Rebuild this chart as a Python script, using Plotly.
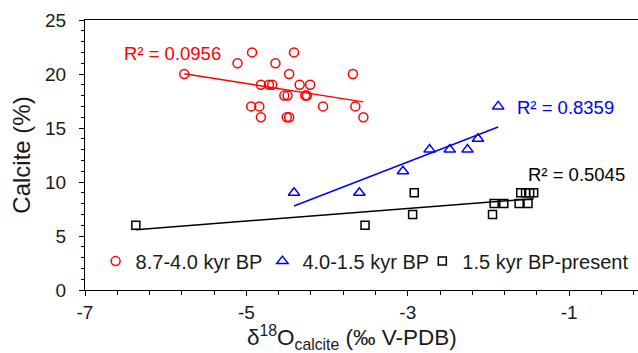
import numpy as np
import plotly.graph_objects as go

# Data
red_x = [-5.77, -5.11, -4.93, -4.64, -4.41, -4.47, -3.68, -4.82, -4.72, -4.68, -4.34, -4.21,
         -4.53, -4.49, -4.27, -4.25, -4.94, -4.84, -4.05, -3.65, -4.82, -4.50, -4.47, -3.55]
red_y = [20, 21, 22, 21, 22, 20, 20, 19, 19, 19, 19, 19,
         18, 18, 18, 18, 17, 17, 17, 17, 16, 16, 16, 16]
blue_x = [-4.41, -3.60, -3.06, -2.73, -2.48, -2.26, -2.13, -1.88]
blue_y = [9, 9, 11, 13, 13, 13, 14, 17]
black_x = [-6.37, -3.53, -2.92, -2.94, -1.95, -1.93, -1.81, -1.62, -1.51,
           -1.60, -1.54, -1.49, -1.44]
black_y = [6, 6, 9, 7, 7, 8, 8, 8, 8, 9, 9, 9, 9]

names = ["8.7-4.0 kyr BP", "4.0-1.5 kyr BP", "1.5 kyr BP-present"]
r2_labels = ["R² = 0.0956", "R² = 0.8359", "R² = 0.5045"]
r2_pos = [(-6.54, 21.9), (-1.67, 16.9), (-1.53, 10.7)]
x_tickvals = [-7, -5, -3, -1]
x_ticktext = ["-7", "-5", "-3", "-1"]

FONT = "Arial, Liberation Sans, sans-serif"
TXT = "#1a1a1a"
colors = ["#FF0000", "#0000FF", "#000000"]
symbols = ["circle-open", "triangle-up-open", "square-open"]
sizes = [9, 10, 8]
legend_ids = ["legend", "legend2", "legend3"]
legend_x = [0.0192, 0.3208, 0.6100]

fig = go.Figure()
groups = [(red_x, red_y), (blue_x, blue_y), (black_x, black_y)]
for (gx, gy), c in zip(groups, colors):
    gx = np.array(gx); gy = np.array(gy)
    k, b = np.polyfit(gx, gy, 1)
    xs = np.array([gx.min(), gx.max()])
    fig.add_trace(go.Scatter(x=xs, y=k * xs + b, mode="lines",
                             line=dict(color=c, width=1.5), showlegend=False,
                             hoverinfo="skip"))
for (gx, gy), c, s, sz, n, lg in zip(groups, colors, symbols, sizes, names, legend_ids):
    fig.add_trace(go.Scatter(x=gx, y=gy, mode="markers", name=n, legend=lg,
                             marker=dict(symbol=s, size=sz, color=c,
                                         line=dict(color=c, width=1.5))))

for (tx, ty), t, c in zip(r2_pos, r2_labels, colors):
    fig.add_annotation(x=tx, y=ty, text=t, showarrow=False, xanchor="left",
                       yanchor="middle", font=dict(family=FONT, size=18.5, color=c))

# x-axis title placed as annotation (offset like the reference)
fig.add_annotation(xref="paper", yref="paper", x=0.483, y=-0.113, showarrow=False,
                   xanchor="center", yanchor="top", borderpad=0,
                   text="δ<sup>18</sup>O<sub>calcite</sub> (‰ V-PDB)",
                   font=dict(family=FONT, size=22.5, color=TXT))

leg_common = dict(orientation="h", yanchor="middle", xanchor="left", y=0.107,
                  bgcolor="rgba(0,0,0,0)", borderwidth=0,
                  font=dict(family=FONT, size=20, color=TXT))

fig.update_layout(
    width=638, height=353,
    margin=dict(l=85, r=0, t=20, b=63),
    plot_bgcolor="white", paper_bgcolor="white",
    font=dict(family=FONT, size=19, color=TXT),
    legend=dict(x=legend_x[0], **leg_common),
    legend2=dict(x=legend_x[1], **leg_common),
    legend3=dict(x=legend_x[2], **leg_common),
    xaxis=dict(range=[-7, -0.147], tickmode="array", tickvals=x_tickvals,
               ticktext=x_ticktext, ticks="outside", ticklen=5, ticklabelstandoff=0,
               tickcolor="black", showline=True, linecolor="black", linewidth=1.2,
               mirror=True, showgrid=False, zeroline=False, automargin=False,
               minor=dict(tick0=-7, dtick=0.4, ticks="outside", ticklen=4,
                          tickcolor="black")),
    yaxis=dict(range=[0, 25], dtick=5, ticks="outside", ticklen=5, tickcolor="black",
               ticklabelstandoff=9,
               showline=True, linecolor="black", linewidth=1.2, showgrid=False,
               zeroline=False, automargin=False,
               minor=dict(dtick=1, ticks="outside", ticklen=3, tickcolor="black"),
               title=dict(text="Calcite (%)", font=dict(size=24), standoff=7)),
    yaxis2=dict(range=[0, 25], dtick=5, overlaying="y", side="left", ticks="inside",
                ticklen=5, tickcolor="black", showticklabels=False, showline=False,
                showgrid=False, zeroline=False),
)

fig.write_html("out.html", config={"displayModeBar": False},
               post_script="document.body.style.margin='0px';")
